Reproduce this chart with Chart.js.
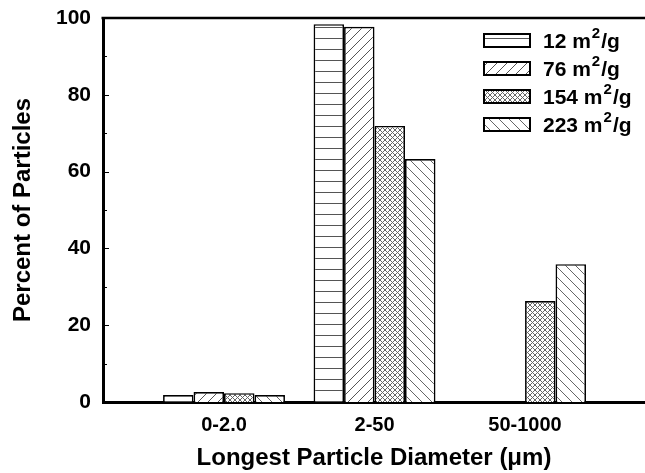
<!DOCTYPE html>
<html>
<head>
<meta charset="utf-8">
<script src="https://cdn.jsdelivr.net/npm/chart.js@4.4.0/dist/chart.umd.min.js"></script>
<style>
  html, body { margin: 0; padding: 0; background: #fff; }
  canvas { display: block; }
</style>
</head>
<body>
<canvas id="grafico" width="645" height="473"></canvas>
<script>
// size classes on the x axis
const categories = ['0-2.0', '2-50', '50-1000'];

// specific surface area of each sample, m2/g
const areas = ['12', '76', '154', '223'];

// percent of particles in each size class
const pct12 = [1.8, 98.4, 0];
const pct76 = [2.6, 97.7, 0];
const pct154 = [2.3, 71.9, 26.3];
const pct223 = [1.8, 63.3, 35.9];

const yTicks = [0, 20, 40, 60, 80, 100];

const FONT = '"Liberation Sans", Arial, sans-serif';

// hatch fills, one per sample
function hatch(size, draw) {
  const c = document.createElement('canvas');
  c.width = size;
  c.height = size;
  const g = c.getContext('2d');
  g.fillStyle = '#fff';
  g.fillRect(0, 0, size, size);
  g.strokeStyle = '#555';
  g.lineWidth = 1;
  draw(g, size);
  return g.createPattern(c, 'repeat');
}

function slash(g, s) {
  g.beginPath();
  g.moveTo(0, s); g.lineTo(s, 0);
  g.moveTo(-1, 1); g.lineTo(1, -1);
  g.moveTo(s - 1, s + 1); g.lineTo(s + 1, s - 1);
  g.stroke();
}

function backslash(g, s) {
  g.beginPath();
  g.moveTo(0, 0); g.lineTo(s, s);
  g.moveTo(-1, s - 1); g.lineTo(1, s + 1);
  g.moveTo(s - 1, -1); g.lineTo(s + 1, 1);
  g.stroke();
}

const fills = [
  hatch(11, (g, s) => { g.beginPath(); g.moveTo(0, 5.5); g.lineTo(s, 5.5); g.stroke(); }),
  hatch(10, slash),
  hatch(5, (g, s) => { g.strokeStyle = '#666'; slash(g, s); backslash(g, s); }),
  hatch(10, (g, s) => { g.strokeStyle = '#666'; backslash(g, s); })
];

const series = [pct12, pct76, pct154, pct223];

const datasets = series.map((vals, i) => ({
  label: areas[i] + ' m²/g',
  data: vals.map((v, j) => ({ x: j + 1, y: v })),
  backgroundColor: fills[i],
  borderColor: '#000',
  borderWidth: 1.7,
  borderSkipped: 'start',
  categoryPercentage: 0.81,
  barPercentage: 1
}));

// top border and inward tick marks on the value axis
const marco = {
  id: 'marco',
  afterDatasetsDraw(chart) {
    const { ctx, chartArea: a } = chart;
    const y = chart.scales.y;
    ctx.save();
    ctx.strokeStyle = '#000';
    ctx.lineWidth = 2.5;
    ctx.beginPath();
    ctx.moveTo(a.left - 1.5, a.top);
    ctx.lineTo(a.right, a.top);
    ctx.stroke();
    ctx.lineWidth = 1;
    for (let k = 0; k < yTicks.length; k++) {
      const py = Math.round(y.getPixelForValue(yTicks[k])) + 0.5;
      ctx.beginPath();
      ctx.moveTo(a.left, py);
      ctx.lineTo(a.left + 6, py);
      ctx.stroke();
      if (k < yTicks.length - 1) {
        const pm = Math.round(y.getPixelForValue((yTicks[k] + yTicks[k + 1]) / 2)) + 0.5;
        ctx.beginPath();
        ctx.moveTo(a.left, pm);
        ctx.lineTo(a.left + 4, pm);
        ctx.stroke();
      }
    }
    ctx.restore();
  }
};

// legend boxes in the upper right corner
const leyenda = {
  id: 'leyenda',
  afterDraw(chart) {
    const ctx = chart.ctx;
    ctx.save();
    chart.data.datasets.forEach((ds, i) => {
      const bx = 484, by = 34 + i * 28;
      ctx.fillStyle = ds.backgroundColor;
      ctx.fillRect(bx, by, 46, 13);
      ctx.strokeStyle = '#000';
      ctx.lineWidth = 2;
      ctx.strokeRect(bx, by, 46, 13);

      let tx = 543;
      const base = by + 14;
      ctx.fillStyle = '#000';
      ctx.textBaseline = 'alphabetic';
      ctx.font = 'bold 21px ' + FONT;
      const pre = areas[i] + ' m';
      ctx.fillText(pre, tx, base);
      tx += ctx.measureText(pre).width + 1;
      ctx.font = 'bold 15px ' + FONT;
      ctx.fillText('2', tx, base - 10);
      tx += ctx.measureText('2').width + 1;
      ctx.font = 'bold 21px ' + FONT;
      ctx.fillText('/g', tx, base);
    });
    ctx.restore();
  }
};

new Chart(document.getElementById('grafico'), {
  type: 'bar',
  data: { datasets: datasets },
  options: {
    responsive: false,
    animation: false,
    layout: { padding: { top: 18, right: 0, bottom: 0, left: 0 } },
    plugins: {
      legend: { display: false },
      tooltip: { enabled: false }
    },
    scales: {
      x: {
        type: 'linear',
        offset: false,
        min: 0.196,
        max: 3.797,
        grid: { display: false, drawTicks: false, offset: false },
        border: { color: '#000', width: 3 },
        afterBuildTicks(scale) {
          scale.ticks = categories.map((c, i) => ({ value: i + 1 }));
        },
        ticks: {
          color: '#000',
          padding: 11,
          maxRotation: 0,
          font: { family: FONT, size: 20, weight: 'bold' },
          callback: (v) => categories[v - 1]
        },
        title: {
          display: true,
          text: 'Longest Particle Diameter (μm)',
          color: '#000',
          padding: { top: 0, bottom: 0 },
          font: { family: FONT, size: 24, weight: 'bold' }
        },
        afterFit(scale) {
          scale.height = 71;
          scale.paddingLeft = 0;
          scale.paddingRight = 0;
        }
      },
      y: {
        min: 0,
        max: 100,
        grid: { display: false, drawTicks: false },
        border: { color: '#000', width: 3 },
        afterBuildTicks(scale) {
          scale.ticks = yTicks.map(v => ({ value: v }));
        },
        ticks: {
          color: '#000',
          padding: 12,
          font: { family: FONT, size: 21, weight: 'bold' }
        },
        title: {
          display: true,
          text: 'Percent of Particles',
          color: '#000',
          padding: { top: 9, bottom: 0 },
          font: { family: FONT, size: 24, weight: 'bold' }
        },
        afterFit(scale) {
          scale.width = 103;
          scale.paddingTop = 0;
          scale.paddingBottom = 0;
        }
      }
    }
  },
  plugins: [marco, leyenda]
});
</script>
</body>
</html>
